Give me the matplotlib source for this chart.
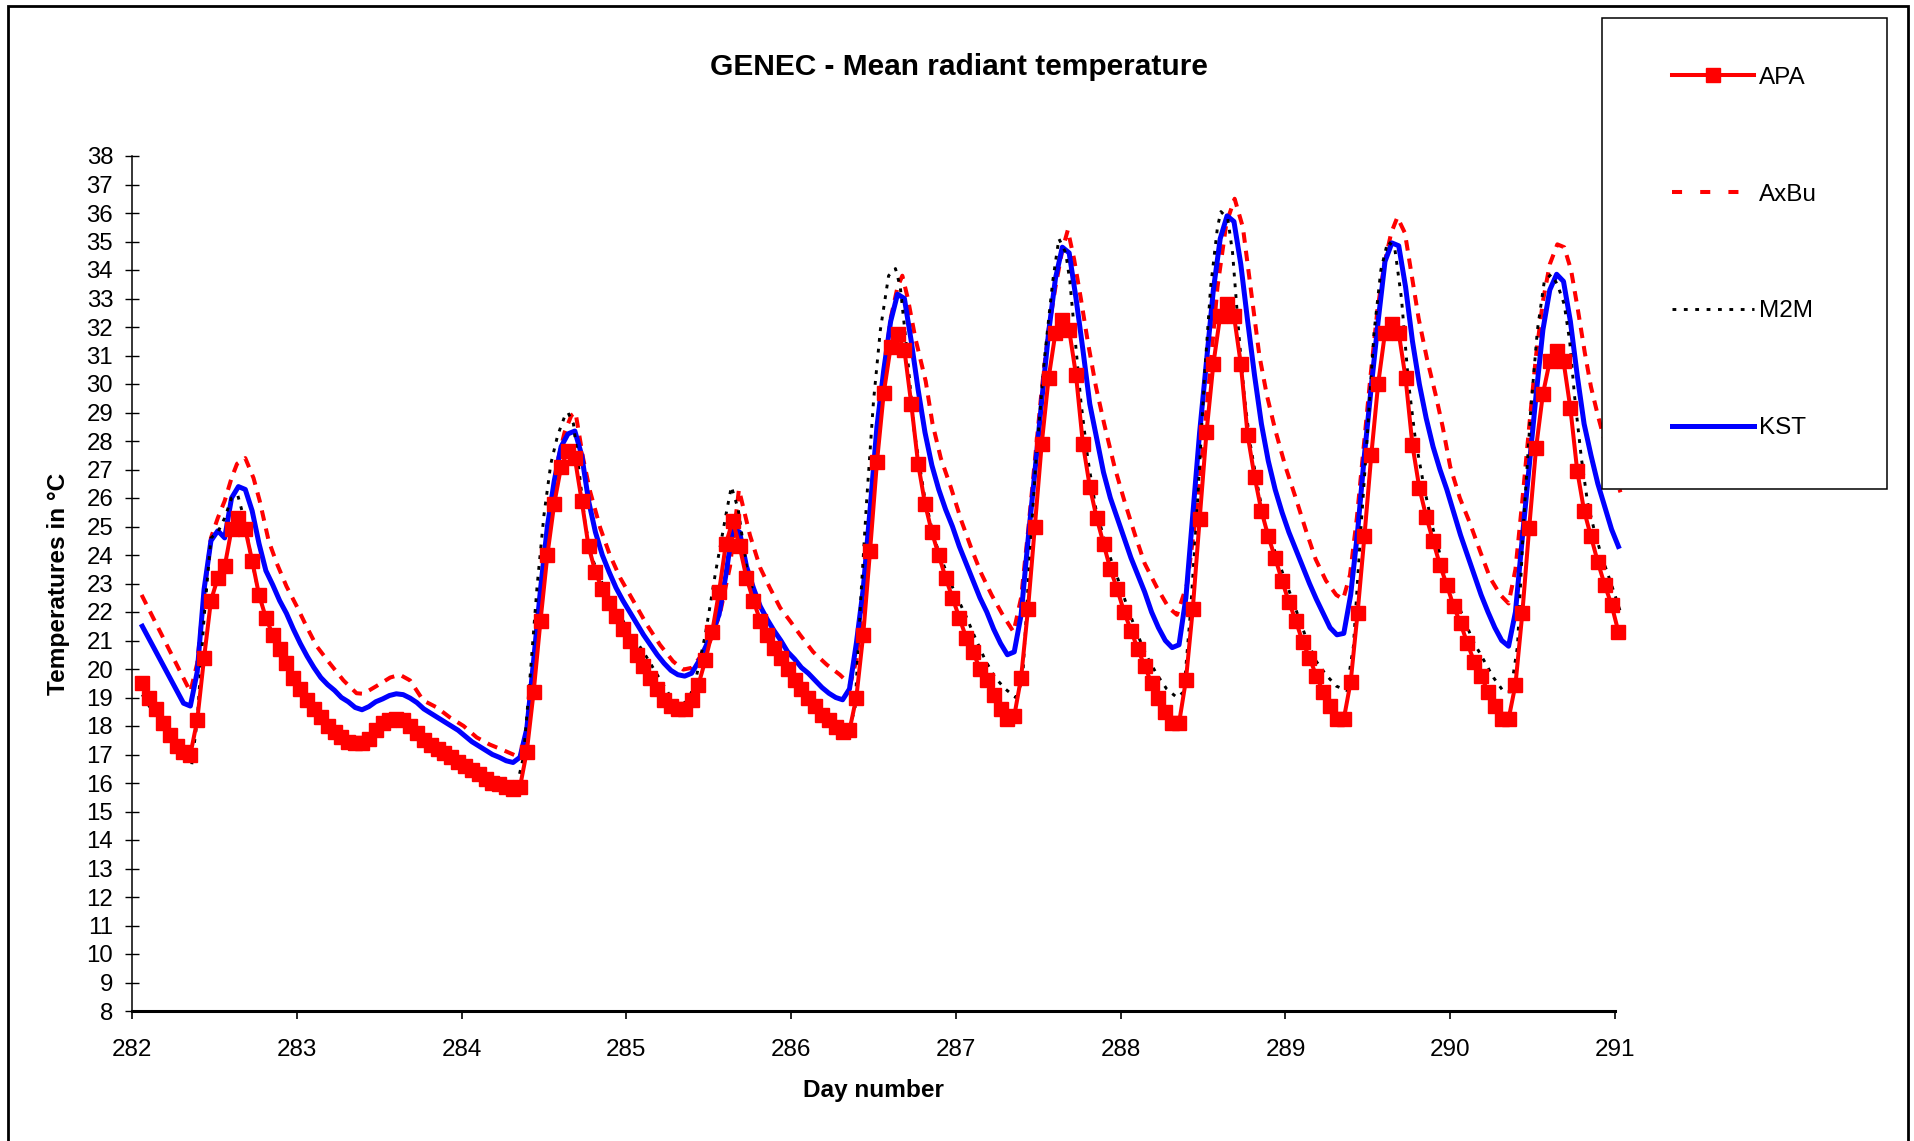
import numpy as np
import matplotlib
matplotlib.use("Agg")
import matplotlib.pyplot as plt
from matplotlib.lines import Line2D
from matplotlib.patches import Rectangle

plt.rcParams["font.family"] = ["Liberation Sans", "DejaVu Sans"]

# hourly records, day 282 hour 1 .. day 291 hour 0
hour_index = np.arange(1, 217)

apa = [
    19.5, 19.0, 18.6, 18.1, 17.7, 17.3, 17.1, 17.0, 18.2, 20.4, 22.4, 23.2,
    23.6, 24.9, 25.3, 24.9, 23.8, 22.6, 21.8, 21.2, 20.7, 20.2, 19.7, 19.3,
    18.9, 18.6, 18.3, 18.0, 17.8, 17.6, 17.45, 17.4, 17.4, 17.55, 17.85, 18.1,
    18.2, 18.25, 18.2, 18.0, 17.75, 17.5, 17.35, 17.2, 17.05, 16.9, 16.75, 16.6,
    16.45, 16.3, 16.15, 16.0, 15.95, 15.85, 15.8, 15.85, 17.1, 19.2, 21.7, 24.0,
    25.8, 27.1, 27.65, 27.4, 25.9, 24.3, 23.4, 22.8, 22.3, 21.85, 21.4, 21.0,
    20.5, 20.1, 19.7, 19.3, 18.9, 18.7, 18.6, 18.6, 18.9, 19.45, 20.3, 21.3,
    22.7, 24.4, 25.2, 24.3, 23.2, 22.4, 21.7, 21.2, 20.75, 20.4, 20.0, 19.6,
    19.3, 19.0, 18.7, 18.4, 18.2, 17.95, 17.8, 17.85, 19.0, 21.2, 24.15, 27.25,
    29.7, 31.3, 31.75, 31.2, 29.3, 27.2, 25.8, 24.8, 24.0, 23.2, 22.5, 21.8,
    21.1, 20.6, 20.0, 19.6, 19.1, 18.6, 18.25, 18.35, 19.7, 22.1, 25.0, 27.9,
    30.2, 31.8, 32.25, 31.9, 30.3, 27.9, 26.4, 25.3, 24.4, 23.5, 22.8, 22.0,
    21.35, 20.7, 20.1, 19.5, 19.0, 18.5, 18.1, 18.1, 19.6, 22.1, 25.25, 28.3,
    30.7, 32.4, 32.8, 32.4, 30.7, 28.2, 26.75, 25.55, 24.65, 23.9, 23.1, 22.35,
    21.7, 20.95, 20.4, 19.75, 19.2, 18.7, 18.25, 18.25, 19.55, 21.95, 24.65, 27.5,
    30.0, 31.8, 32.1, 31.8, 30.2, 27.85, 26.35, 25.35, 24.5, 23.65, 22.95, 22.2,
    21.6, 20.9, 20.25, 19.75, 19.2, 18.7, 18.25, 18.25, 19.45, 21.95, 24.95, 27.75,
    29.65, 30.8, 31.15, 30.8, 29.15, 26.95, 25.55, 24.65, 23.75, 22.95, 22.25, 21.3,
]

kst = [
    21.5, 21.05, 20.6, 20.15, 19.7, 19.25, 18.8, 18.7, 19.9, 22.8, 24.5, 24.85,
    24.6, 26.0, 26.4, 26.3, 25.55, 24.4, 23.45, 22.95, 22.4, 21.95, 21.4, 20.9,
    20.45, 20.05, 19.7, 19.45, 19.25, 19.0, 18.85, 18.65, 18.57, 18.68, 18.85, 18.95,
    19.07, 19.13, 19.1, 18.98, 18.82, 18.6, 18.45, 18.3, 18.15, 18.0, 17.85, 17.65,
    17.45, 17.3, 17.15, 17.0, 16.9, 16.78, 16.72, 16.9, 17.9, 20.3, 22.8, 25.0,
    26.6, 27.8, 28.25, 28.35, 27.5, 25.9, 24.8, 24.0, 23.4, 22.85, 22.4, 22.0,
    21.6, 21.2, 20.85, 20.5, 20.2, 19.95, 19.8, 19.75, 19.85, 20.25, 20.75, 21.3,
    21.9, 23.3, 24.95, 24.8, 23.6, 22.85, 22.2, 21.75, 21.35, 21.0, 20.6, 20.35,
    20.05, 19.85, 19.6, 19.35, 19.15, 19.0, 18.92, 19.3, 20.9, 22.8, 25.6, 28.5,
    30.5, 32.2, 33.15, 33.0, 31.5, 29.8, 28.3, 27.15, 26.3, 25.6, 25.0, 24.3,
    23.7, 23.1, 22.5, 22.0, 21.4, 20.9, 20.5, 20.6, 21.9, 24.5, 26.9, 29.4,
    31.8, 33.7, 34.8, 34.6, 33.0, 31.2, 29.3, 28.1, 26.9, 26.0, 25.3, 24.6,
    23.9, 23.3, 22.7, 22.0, 21.45, 21.0, 20.75, 20.85, 22.5, 25.4, 28.3, 30.8,
    33.3, 35.1, 35.9, 35.7, 34.2, 32.2, 30.3, 28.6, 27.3, 26.3, 25.5, 24.8,
    24.2, 23.6, 23.0, 22.45, 21.95, 21.45, 21.2, 21.25, 22.6, 24.8, 27.5, 29.9,
    32.2, 34.3, 34.95, 34.85, 33.4, 31.5, 30.0, 28.8, 27.8, 27.0, 26.3, 25.5,
    24.7, 24.0, 23.3, 22.6, 22.0, 21.45, 21.0, 20.8, 22.0, 24.6, 27.1, 29.6,
    31.9, 33.3, 33.85, 33.6, 32.2, 30.3, 28.6, 27.5, 26.5, 25.7, 24.9, 24.3,
]

# AxBu and M2M read at visible vertices (hours after day 282.0)
axbu_hour = [
    1.4, 8.5, 9.5, 10.5, 11.5, 12.5, 13.5, 14.5, 15.3, 16.5, 17.7, 18.6, 19.9,
    21.1, 22.5, 24.0, 25.4, 26.9, 28.8, 30.8, 32.7, 33.7, 35.6, 37.6, 39.0,
    40.5, 42.4, 44.4, 46.3, 48.3, 50.2, 52.1, 54.1, 56.0,
    57.0, 58.0, 59.0, 60.0, 61.0, 62.0, 63.0, 64.0, 64.6, 65.7, 66.7, 68.2,
    69.6, 71.1, 73.0, 75.0, 76.9, 78.8, 80.3, 81.5, 82.7, 84.2, 85.6, 87.1,
    88.4, 89.0, 90.0, 91.5, 92.9, 94.4, 95.8, 97.3, 99.2, 101.2, 103.1, 104.6,
    105.5, 106.5, 107.5, 108.5, 109.5, 110.5, 111.5, 112.2, 113.0, 114.1,
    115.6, 116.6, 117.8, 119.3, 120.8, 122.3, 123.7, 125.2, 126.7, 128.4,
    129.5, 130.5, 131.5, 132.5, 133.5, 134.5, 135.5, 136.3, 137.2, 138.2,
    139.2, 140.4, 141.6, 143.1, 144.6, 146.1, 147.5, 149.3, 151.0, 152.2,
    153.7, 155.2, 156.7, 158.1, 159.4, 160.6, 161.8, 162.6, 163.4, 164.2,
    165.3, 166.5, 168.0, 169.5, 171.0, 172.4, 173.9, 175.4, 176.4,
    177.4, 178.4, 179.4, 180.4, 181.4, 182.4, 183.4, 184.3, 185.4, 186.4,
    187.4, 188.6, 189.9, 190.9, 192.0, 193.4, 194.9, 196.4, 197.8, 199.3, 200.5,
    201.5, 202.5, 203.5, 204.5, 205.5, 206.5, 207.6, 208.6, 209.6, 210.6,
    211.6, 212.5, 213.5, 214.5, 215.5, 216.8,
]
axbu = [
    22.6, 19.2, 20.2, 22.6, 24.6, 25.3, 25.9, 26.7, 27.2, 27.4, 26.7, 25.9, 24.5,
    23.7, 22.9, 22.2, 21.5, 20.8, 20.2, 19.6, 19.15, 19.13, 19.4, 19.7, 19.8,
    19.6, 18.9, 18.65, 18.3, 18.0, 17.6, 17.35, 17.15, 16.95,
    17.2, 18.6, 21.0, 23.4, 25.6, 27.3, 28.3, 28.9, 29.0, 27.4, 26.25, 24.95,
    24.0, 23.2, 22.4, 21.55, 20.85, 20.27, 19.98, 20.04, 20.4, 20.97, 21.9, 23.6,
    26.3, 25.7, 24.7, 23.55, 22.85, 22.15, 21.7, 21.2, 20.6, 20.15, 19.8, 19.45,
    20.3, 22.4, 25.2, 28.0, 30.4, 32.3, 33.4, 33.8, 33.0, 31.6,
    30.1, 28.6, 27.4, 26.35, 25.2, 24.2, 23.35, 22.6, 21.95, 21.3,
    22.5, 24.8, 27.3, 29.8, 31.9, 33.4, 34.7, 35.4, 34.4, 33.0,
    31.5, 29.9, 28.6, 27.1, 25.85, 24.7, 23.7, 22.85, 22.15, 21.9,
    23.0, 25.85, 29.6, 33.4, 35.65, 36.5, 35.5, 34.0, 32.5, 31.0,
    29.6, 28.4, 27.1, 26.0, 24.85, 23.85, 23.1, 22.6, 22.45,
    23.3, 25.3, 27.8, 30.3, 32.6, 34.2, 35.3, 35.85, 35.3, 33.8,
    32.3, 30.9, 29.6, 28.5, 27.1, 26.0, 25.1, 24.1, 23.2, 22.6, 22.3,
    23.5, 25.9, 28.5, 31.0, 32.9, 34.2, 34.9, 34.8, 34.0, 32.6,
    31.1, 29.9, 28.9, 28.0, 27.1, 26.2,
]

m2m_hour = [
    1.5, 3.5, 5.5, 7.5, 8.7, 9.5, 10.5, 11.5, 12.5, 13.5, 14.5, 15.4, 16.3,
    17.3, 18.5, 19.5, 21.5, 23.5, 25.5, 27.5, 29.5, 31.5, 33.5, 35.5, 37.5,
    39.0, 40.5, 42.5, 44.5, 46.5, 48.5, 50.5, 52.5, 54.5, 56.0,
    57.0, 58.0, 59.0, 60.0, 61.0, 62.0, 63.0, 63.5, 64.3, 65.0, 66.0, 67.0,
    68.5, 70.5, 72.5, 74.5, 76.5, 78.5, 80.0, 81.0, 82.0, 83.5, 85.0, 86.5,
    87.3, 88.3, 89.5, 91.0, 93.0, 95.0, 97.0, 99.0, 101.0, 103.0, 104.3,
    105.3, 106.2, 107.0, 108.0, 109.0, 110.2, 111.2, 111.9, 112.9, 113.9,
    115.4, 116.8, 118.3, 119.8, 121.3, 122.8, 124.3, 125.7, 127.2, 128.7,
    129.7, 130.6, 131.6, 132.9, 134.1, 135.0, 136.0, 136.6, 137.4, 138.2,
    139.2, 140.4, 141.9, 143.4, 144.8, 146.3, 147.8, 149.3, 150.7, 152.2,
    153.2, 154.2, 155.2, 156.2, 157.1, 158.1, 158.6, 159.6, 160.3, 161.2,
    162.0, 162.8, 163.8, 165.0, 166.5, 168.0, 169.5, 171.0, 172.4, 173.9,
    175.4, 176.9, 177.9, 178.9, 179.9, 180.9, 181.9, 182.9, 183.9, 184.9,
    185.9, 186.9, 188.1, 189.4, 191.0, 192.5, 193.9, 195.4, 196.9, 198.3,
    199.8, 200.8, 201.8, 202.7, 203.7, 204.7, 205.7, 206.7, 207.6, 208.6,
    209.4, 210.1, 211.1, 212.0, 213.0, 214.0, 215.5, 216.8,
]
m2m = [
    19.1, 18.3, 17.5, 16.9, 16.65, 18.2, 21.8, 24.6, 24.8, 25.3, 26.0, 26.1, 25.3,
    24.0, 22.6, 21.8, 20.8, 19.8, 19.0, 18.4, 17.9, 17.5, 17.45, 17.85, 18.2,
    18.3, 18.05, 17.55, 17.25, 16.95, 16.65, 16.35, 16.05, 15.9, 15.85,
    16.9, 19.8, 22.9, 25.4, 27.2, 28.2, 28.85, 29.0, 28.6, 27.2, 25.1, 23.9,
    23.0, 22.1, 21.3, 20.6, 19.8, 19.0, 18.75, 18.9, 19.5, 21.2, 23.4, 25.4,
    26.4, 25.6, 23.6, 22.2, 21.0, 20.2, 19.5, 18.9, 18.4, 18.0, 17.8,
    18.6, 22.7, 25.9, 29.4, 31.9, 33.8, 34.05, 33.4, 31.1, 28.4,
    26.1, 24.6, 23.6, 22.7, 21.95, 21.1, 20.3, 19.7, 19.3, 19.0,
    19.6, 23.3, 27.1, 30.9, 33.6, 35.1, 34.6, 33.6, 31.5, 29.4,
    27.4, 25.6, 24.3, 23.3, 22.3, 21.3, 20.45, 19.8, 19.3, 19.0,
    19.2, 22.1, 25.85, 30.25, 33.4, 35.5, 36.05, 35.8, 34.6, 31.8,
    29.6, 28.0, 26.6, 25.1, 24.1, 23.1, 22.1, 21.1, 20.3, 19.8,
    19.4, 19.25, 20.8, 24.6, 28.1, 31.8, 34.0, 35.0, 34.8, 33.0,
    30.1, 28.1, 26.5, 25.0, 23.6, 22.7, 21.8, 20.95, 20.3, 19.7,
    19.2, 19.2, 20.8, 25.2, 29.0, 31.9, 33.6, 33.85, 33.5, 32.8,
    31.5, 29.6, 27.4, 25.85, 24.85, 24.0, 22.95, 22.0,
]

day_ticks = list(range(282, 292))
temp_ticks = list(range(8, 39))

hourly_day = 282 + (hour_index + 0.5) / 24
axbu_day = 282 + np.array(axbu_hour) / 24
m2m_day = 282 + np.array(m2m_hour) / 24

fig = plt.figure(figsize=(19.14, 11.41), dpi=100)
ax = fig.add_axes([132 / 1914, 1 - 1011 / 1141, (1615 - 132) / 1914, (1011 - 156) / 1141])

ax.plot(axbu_day, axbu, color="red", lw=2.9, dashes=(2.6, 2.0), clip_on=False, zorder=2)
ax.plot(hourly_day, kst, color="blue", lw=3.6, clip_on=False, zorder=3)
ax.plot(m2m_day, m2m, color="black", lw=2.1, dashes=(1.3, 2.4), clip_on=False, zorder=4)
ax.plot(hourly_day, apa, color="red", lw=2.9, marker="s", ms=9.5, mec="red",
        clip_on=False, zorder=5)

ax.set_xlim(282, 291)
ax.set_ylim(8, 38)
ax.set_xticks(day_ticks)
ax.set_yticks(temp_ticks)
ax.spines["top"].set_visible(False)
ax.spines["right"].set_visible(False)
ax.spines["left"].set_linewidth(1.1)
ax.spines["bottom"].set_linewidth(2.2)
ax.tick_params(axis="y", direction="inout", length=10, width=1, pad=8.5, labelsize=17.3)
ax.tick_params(axis="x", direction="out", length=6, width=1.2, pad=14, labelsize=17.5)

ax.set_xlabel("Day number", fontsize=17.6, fontweight="bold", va="center")
ax.xaxis.set_label_coords(0.5, -(1090 - 1011) / 855)
ax.set_ylabel("Temperatures in \u00b0C", fontsize=17.6, fontweight="bold", va="center")
ax.yaxis.set_label_coords(-(132 - 59) / 1483, 0.5)

fig.text(959 / 1914, 1 - 67 / 1141, "GENEC - Mean radiant temperature",
         ha="center", va="center", fontsize=21.5, fontweight="bold")

# outer chart frame
fig.add_artist(Rectangle((8 / 1914, -0.05), 1900 / 1914, 1 - 6 / 1141 + 0.05,
                         transform=fig.transFigure, fill=False, lw=2, ec="black"))

# legend box
fig.add_artist(Rectangle((1602 / 1914, 1 - 489 / 1141), 285 / 1914, 471 / 1141,
                         transform=fig.transFigure, fc="white", ec="black", lw=1.1,
                         zorder=10))
handles = [
    Line2D([], [], color="red", lw=2.9, marker="s", ms=9.5),
    Line2D([], [], color="red", lw=2.9, dashes=(2.5, 4.5)),
    Line2D([], [], color="black", lw=2.1, dashes=(1.3, 2.6)),
    Line2D([], [], color="blue", lw=3.6),
]
leg = fig.legend(handles, ["APA", "AxBu", "M2M", "KST"], loc="center",
                 bbox_to_anchor=(1744.5 / 1914, 1 - 253 / 1141), frameon=False,
                 fontsize=17.5, handlelength=3.35, handletextpad=0.2,
                 labelspacing=3.9, numpoints=1)
leg.set_zorder(11)

fig.savefig("out.png", dpi=100)
